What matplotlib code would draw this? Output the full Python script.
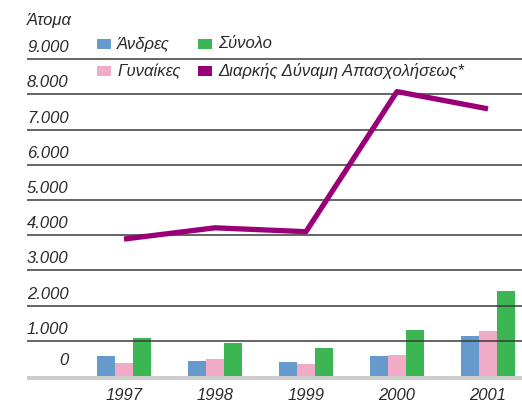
import matplotlib.pyplot as plt
import numpy as np
from matplotlib.patches import Rectangle

years = ["1997", "1998", "1999", "2000", "2001"]
men = [570, 430, 400, 570, 1140]
women = [370, 480, 340, 600, 1280]
total = [1080, 940, 800, 1300, 2410]
labour_force = [3890, 4210, 4100, 8080, 7590]

grid_values = [1000, 2000, 3000, 4000, 5000, 6000, 7000, 8000, 9000]
grid_labels = ["1.000", "2.000", "3.000", "4.000", "5.000", "6.000", "7.000", "8.000", "9.000"]
y_title = "Άτομα"
legend_labels = ["Άνδρες", "Σύνολο", "Γυναίκες", "Διαρκής Δύναμη Απασχολήσεως*"]

BLUE = "#6699cc"
PINK = "#f0abc6"
GREEN = "#3cb553"
PURPLE = "#990077"
TEXT = "#2a2a2a"
FONT = dict(fontsize=12, style="italic", color=TEXT, family="Liberation Sans")

W, H = 522, 403
fig = plt.figure(figsize=(W / 100, H / 100), dpi=100)

# axes in pixel terms: left 27 -> right 522, bottom 380 -> top 30
ax = fig.add_axes([27 / W, (H - 380) / H, (W - 27) / W, 350 / H])
px_per_unit = 35.2 / 1000
ax.set_ylim(-(380 - 376) / px_per_unit, (376 - 30) / px_per_unit)
ax.set_xlim((27 - 124) / 91, (522 - 124) / 91)
ax.axis("off")

x = np.arange(len(years))
bw = 0.2
ax.bar(x - bw, men, bw, color=BLUE, zorder=2)
ax.bar(x, women, bw, color=PINK, zorder=2)
ax.bar(x + bw, total, bw, color=GREEN, zorder=2)

ax.axhspan(ax.get_ylim()[0], 0, color="#cccccc", zorder=1, lw=0)

for v, lab in zip(grid_values, grid_labels):
    ax.axhline(v, color="#3a3a3a", lw=1.1, zorder=3)
    ax.annotate(lab, (0, v), xycoords=("axes fraction", "data"),
                xytext=(0, 5), textcoords="offset points",
                ha="left", va="baseline", **FONT)
ax.annotate("0", (42 / (W - 27), 0), xycoords=("axes fraction", "data"),
            xytext=(0, 8), textcoords="offset points",
            ha="right", va="baseline", **FONT)

ax.plot(x, labour_force, color=PURPLE, lw=3.8, zorder=4, solid_capstyle="butt")

year_y = -(395 - 376) / px_per_unit
for xi, yr in zip(x, years):
    ax.text(xi, year_y, yr, ha="center", va="center", **FONT)

fig.text(27 / W, 1 - 21 / H, y_title, ha="left", va="center", **FONT)

# legend, drawn by hand
legend_colors = [BLUE, GREEN, PINK, PURPLE]
legend_pos = [(97, 39), (198, 39), (97, 66), (198, 66)]
for (lx, ly), col, lab in zip(legend_pos, legend_colors, legend_labels):
    fig.add_artist(Rectangle((lx / W, 1 - (ly + 10) / H), 14 / W, 10 / H,
                             transform=fig.transFigure, color=col, lw=0))
    fig.text((lx + 20) / W, 1 - (ly + 5) / H, lab, ha="left", va="center", **FONT)

fig.savefig("out.png", dpi=100)
